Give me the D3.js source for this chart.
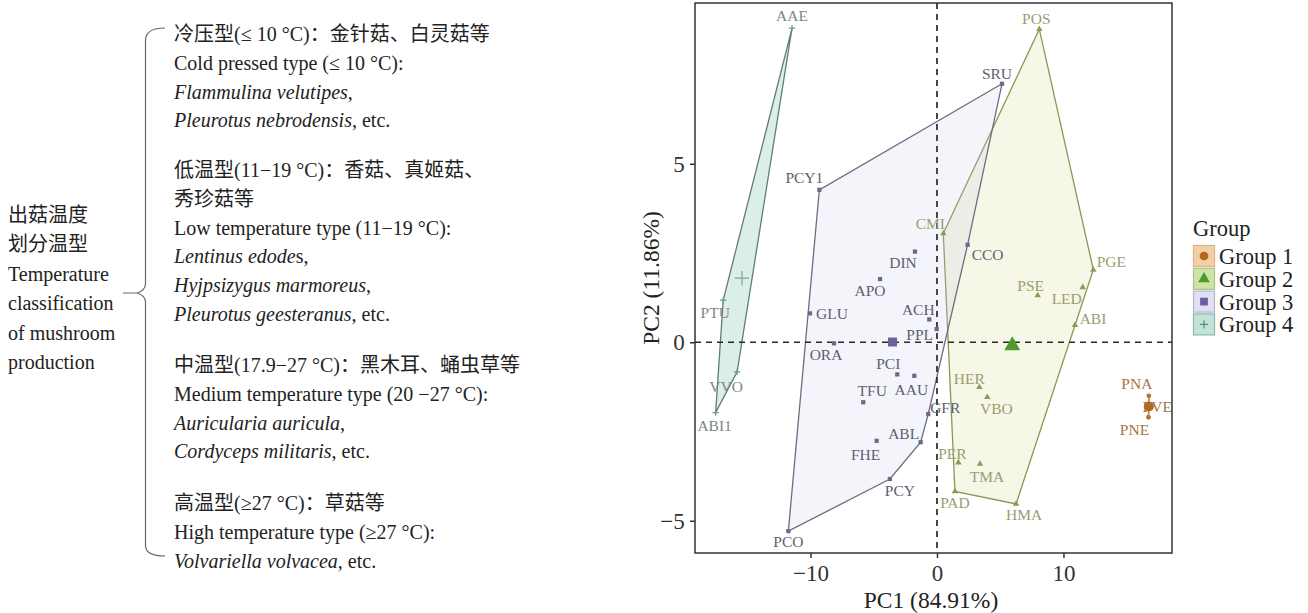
<!DOCTYPE html>
<html>
<head>
<meta charset="utf-8">
<script src="https://cdn.jsdelivr.net/npm/d3@7"></script>
<style>
  body { margin: 0; background: #fff; }
  text { font-family: "Liberation Serif", "Noto Sans CJK SC", serif; }
</style>
</head>
<body>
<script>
const width = 1308, height = 613;

// PCA scores
const names = ["PNA", "PVE", "PNE",
  "POS", "CMI", "PGE", "LED", "PSE", "ABI", "HER", "VBO", "PER", "TMA", "PAD", "HMA",
  "SRU", "PCY1", "GLU", "ORA", "DIN", "APO", "ACH", "PPL", "PCI", "AAU", "TFU", "GFR", "ABL", "FHE", "PCY", "PCO", "CCO",
  "AAE", "PTU", "VVO", "ABI1"];
const pc1 = [16.75, 16.78, 16.72,
  8.09, 0.50, 12.36, 11.52, 7.96, 10.91, 3.35, 3.98, 1.69, 3.40, 1.42, 6.25,
  5.14, -9.30, -10.04, -8.14, -1.74, -4.50, -0.61, -0.02, -3.14, -1.79, -5.83, -0.69, -1.29, -4.77, -3.72, -11.75, 2.42,
  -11.46, -16.90, -15.80, -17.50];
const pc2 = [-1.50, -1.80, -2.10,
  8.77, 3.05, 2.03, 1.54, 1.31, 0.48, -1.26, -1.54, -3.37, -3.41, -4.18, -4.53,
  7.24, 4.27, 0.81, -0.03, 2.54, 1.77, 0.64, 0.37, -0.90, -0.94, -1.68, -2.01, -2.80, -2.76, -3.83, -5.29, 2.73,
  8.80, 1.18, -0.83, -1.97];
const group = [1, 1, 1,
  2, 2, 2, 2, 2, 2, 2, 2, 2, 2, 2, 2,
  3, 3, 3, 3, 3, 3, 3, 3, 3, 3, 3, 3, 3, 3, 3, 3, 3,
  4, 4, 4, 4];
const groups = [1, 2, 3, 4];
const groupLabels = ["Group 1", "Group 2", "Group 3", "Group 4"];
const xTicks = [-10, 0, 10];
const yTicks = [-5, 0, 5];
const xTitle = "PC1 (84.91%)";
const yTitle = "PC2 (11.86%)";

// left-side text
const sideLabel = ["出菇温度", "划分温型", "Temperature", "classification", "of mushroom", "production"];
const blocks = [
  [[["冷压型(≤ 10 °C)：金针菇、白灵菇等", 0]],
   [["Cold pressed type (≤ 10 °C):", 0]],
   [["Flammulina velutipes", 1], [",", 0]],
   [["Pleurotus nebrodensis", 1], [", etc.", 0]]],
  [[["低温型(11−19 °C)：香菇、真姬菇、", 0]],
   [["秀珍菇等", 0]],
   [["Low temperature type (11−19 °C):", 0]],
   [["Lentinus edode", 1], ["s,", 0]],
   [["Hyjpsizygus marmoreus", 1], [",", 0]],
   [["Pleurotus geesteranus", 1], [", etc.", 0]]],
  [[["中温型(17.9−27 °C)：黑木耳、蛹虫草等", 0]],
   [["Medium temperature type (20 −27 °C):", 0]],
   [["Auricularia auricula", 1], [",", 0]],
   [["Cordyceps militaris", 1], [", etc.", 0]]],
  [[["高温型(≥27 °C)：草菇等", 0]],
   [["High temperature type (≥27 °C):", 0]],
   [["Volvariella volvacea", 1], [", etc.", 0]]]
];

// styling
const style = {
  1: {pt: "#b8732e", cen: "#b06a20", lab: "#a57545", stroke: "#b8823f", fill: "#f3c890", op: 0.3,
      kFill: "#f2cfa5", kStroke: "#d9b48a", kPt: "#b5651d"},
  2: {pt: "#8d9a55", cen: "#4f9a2c", lab: "#9a9d72", stroke: "#8f9455", fill: "#d5dc8c", op: 0.22,
      kFill: "#cde3a8", kStroke: "#a8c482", kPt: "#4e9a2a"},
  3: {pt: "#6c6a8c", cen: "#6e5f9e", lab: "#5e5e70", stroke: "#6d6d82", fill: "#c8cbe8", op: 0.2,
      kFill: "#e0e0f2", kStroke: "#b5b5cf", kPt: "#6b5fa3"},
  4: {pt: "#6a9a88", cen: "#79a892", lab: "#7c8884", stroke: "#5f7e74", fill: "#8fcbb6", op: 0.32,
      kFill: "#c3e3d8", kStroke: "#88b8a8", kPt: "#4f8f7c"}
};

// label nudges (px, relative to point)
const nudge = {
  PNA: [-12, -12], PVE: [8, 0], PNE: [-14, 12],
  POS: [-3, -11], CMI: [-13, -10], PGE: [18, -8], LED: [-16, 11], PSE: [-7, -10], ABI: [18, -7],
  HER: [-10, -9], VBO: [9, 11], PER: [-6, -9], TMA: [7, 12], PAD: [0, 11], HMA: [8, 11],
  SRU: [-5, -10], PCY1: [-15, -12], GLU: [22, 0], ORA: [-8, 11], DIN: [-12, 11], APO: [-10, 11],
  ACH: [-11, -10], PPL: [-17, 5], PCI: [-9, -11], AAU: [-3, 14], TFU: [9, -12], GFR: [17, -7],
  ABL: [-17, -9], FHE: [-11, 14], PCY: [10, 12], PCO: [0, 10], CCO: [20, 10],
  AAE: [0, -13], PTU: [-8, 12], VVO: [-11, 15], ABI1: [-1, 13]
};

const points = names.map((n, i) => ({name: n, x: pc1[i], y: pc2[i], g: group[i]}));

const svg = d3.select("body").append("svg")
  .attr("width", width)
  .attr("height", height);

// ---------- left text ----------
svg.append("g").selectAll("text")
  .data(sideLabel)
  .enter().append("text")
  .attr("x", 8)
  .attr("y", (d, i) => 215 + i * 29.4)
  .attr("dominant-baseline", "central")
  .attr("font-size", 20)
  .attr("fill", "#222")
  .text(d => d);

const blockStart = [34, 170, 365, 503];
const lineGap = 28.8;
blocks.forEach((lines, b) => {
  lines.forEach((parts, li) => {
    const t = svg.append("text")
      .attr("x", 174)
      .attr("y", blockStart[b] + li * lineGap)
      .attr("dominant-baseline", "central")
      .attr("font-size", 20)
      .attr("fill", "#222");
    parts.forEach(p => {
      t.append("tspan")
        .attr("font-style", p[1] ? "italic" : "normal")
        .text(p[0]);
    });
  });
});

// brace
svg.append("path")
  .attr("d", "M165,28 Q146,28 145.5,40 L145.5,284 Q145,291 137,293 L123,293 M137,293 Q145,295 145.5,302 L145.5,546 Q146,556 165,556")
  .attr("fill", "none")
  .attr("stroke", "#666")
  .attr("stroke-width", 1.2);

// ---------- PCA panel ----------
const x = d3.scaleLinear().domain([-19.13, 18.58]).range([695, 1172]);
const y = d3.scaleLinear().domain([-5.9, 9.5]).range([552.9, 3.1]);

const plusSymbol = {
  draw(ctx, size) {
    const r = Math.sqrt(size) / 2;
    ctx.moveTo(-r, 0); ctx.lineTo(r, 0);
    ctx.moveTo(0, -r); ctx.lineTo(0, r);
  }
};
const shapes = {1: d3.symbolCircle, 2: d3.symbolTriangle, 3: d3.symbolSquare, 4: plusSymbol};

function marker(sel, g, size, color) {
  sel.attr("d", d3.symbol().type(shapes[g]).size(size)());
  if (g === 4) sel.attr("fill", "none").attr("stroke", color).attr("stroke-width", 1.2);
  else sel.attr("fill", color);
}

const plot = svg.append("g");
plot.append("defs").append("clipPath").attr("id", "clip")
  .append("rect").attr("x", 695).attr("y", 3).attr("width", 477).attr("height", 550);

const inner = plot.append("g").attr("clip-path", "url(#clip)");

// hulls
groups.forEach(g => {
  const pts = points.filter(p => p.g === g).map(p => [x(p.x), y(p.y)]);
  let hull = d3.polygonHull(pts);
  if (!hull) hull = pts;
  inner.append("path")
    .attr("d", "M" + hull.join("L") + "Z")
    .attr("fill", style[g].fill)
    .attr("fill-opacity", style[g].op)
    .attr("stroke", style[g].stroke)
    .attr("stroke-width", 1.3);
});

// reference lines
inner.append("line")
  .attr("x1", x(0)).attr("x2", x(0)).attr("y1", 3).attr("y2", 553)
  .attr("stroke", "#2a2a2a").attr("stroke-width", 1.7).attr("stroke-dasharray", "6,5");
inner.append("line")
  .attr("x1", 695).attr("x2", 1172).attr("y1", y(0)).attr("y2", y(0))
  .attr("stroke", "#2a2a2a").attr("stroke-width", 1.7).attr("stroke-dasharray", "6,5");

// points
inner.selectAll("path.pt")
  .data(points)
  .enter().append("path")
  .attr("class", "pt")
  .attr("transform", d => `translate(${x(d.x)},${y(d.y)})`)
  .each(function (d) { marker(d3.select(this), d.g, d.g === 4 ? 40 : 18, style[d.g].pt); });

// centroids
groups.forEach(g => {
  const pts = points.filter(p => p.g === g);
  const cx = d3.mean(pts, p => p.x), cy = d3.mean(pts, p => p.y);
  inner.append("path")
    .attr("transform", `translate(${x(cx)},${y(cy)})`)
    .call(s => marker(s, g, g === 4 ? 200 : (g === 2 ? 110 : 80), style[g].cen));
});

// labels
inner.selectAll("text.lab")
  .data(points)
  .enter().append("text")
  .attr("class", "lab")
  .attr("x", d => x(d.x) + nudge[d.name][0])
  .attr("y", d => y(d.y) + nudge[d.name][1])
  .attr("text-anchor", "middle")
  .attr("dominant-baseline", "central")
  .attr("font-size", 15.5)
  .attr("fill", d => style[d.g].lab)
  .text(d => d.name);

// panel border
plot.append("rect")
  .attr("x", 695).attr("y", 3).attr("width", 477).attr("height", 550)
  .attr("fill", "none").attr("stroke", "#333").attr("stroke-width", 1.5);

// axes
const xAxis = plot.append("g")
  .attr("transform", "translate(0,553)")
  .call(d3.axisBottom(x).tickValues(xTicks).tickSize(5).tickSizeOuter(0).tickFormat(d3.format("d")));
const yAxis = plot.append("g")
  .attr("transform", "translate(695,0)")
  .call(d3.axisLeft(y).tickValues(yTicks).tickSize(5).tickSizeOuter(0).tickFormat(d3.format("d")));
[xAxis, yAxis].forEach(a => {
  a.select(".domain").remove();
  a.selectAll(".tick line").attr("stroke", "#333").attr("stroke-width", 1.5);
  a.selectAll(".tick text")
    .attr("font-family", "Liberation Serif, serif")
    .attr("font-size", 23)
    .attr("fill", "#333");
});
xAxis.selectAll(".tick text").attr("dy", "0.85em");
yAxis.selectAll(".tick text").attr("dx", "-0.1em");

svg.append("text")
  .attr("x", 931).attr("y", 600)
  .attr("text-anchor", "middle").attr("dominant-baseline", "central")
  .attr("font-size", 23.5).attr("fill", "#222")
  .text(xTitle);
svg.append("text")
  .attr("transform", "translate(651,278) rotate(-90)")
  .attr("text-anchor", "middle").attr("dominant-baseline", "central")
  .attr("font-size", 23.5).attr("fill", "#222")
  .text(yTitle);

// legend
const legend = svg.append("g").attr("transform", "translate(1193,245)");
legend.append("text")
  .attr("x", 0).attr("y", -17)
  .attr("dominant-baseline", "central")
  .attr("font-size", 22.5).attr("fill", "#222")
  .text("Group");
const key = legend.selectAll("g.key")
  .data(groups)
  .enter().append("g")
  .attr("class", "key")
  .attr("transform", (d, i) => `translate(0,${i * 22.8})`);
key.append("rect")
  .attr("x", 0.5).attr("y", 0.5).attr("width", 21).attr("height", 21)
  .attr("fill", d => style[d].kFill)
  .attr("stroke", d => style[d].kStroke)
  .attr("stroke-width", 1.2);
key.append("path")
  .attr("transform", "translate(11,11)")
  .each(function (d) { marker(d3.select(this), d, d === 4 ? 70 : 60, style[d].kPt); });
key.append("text")
  .attr("x", 26).attr("y", 11.5)
  .attr("dominant-baseline", "central")
  .attr("font-size", 22.5).attr("fill", "#222")
  .text((d, i) => groupLabels[i]);
</script>
</body>
</html>
